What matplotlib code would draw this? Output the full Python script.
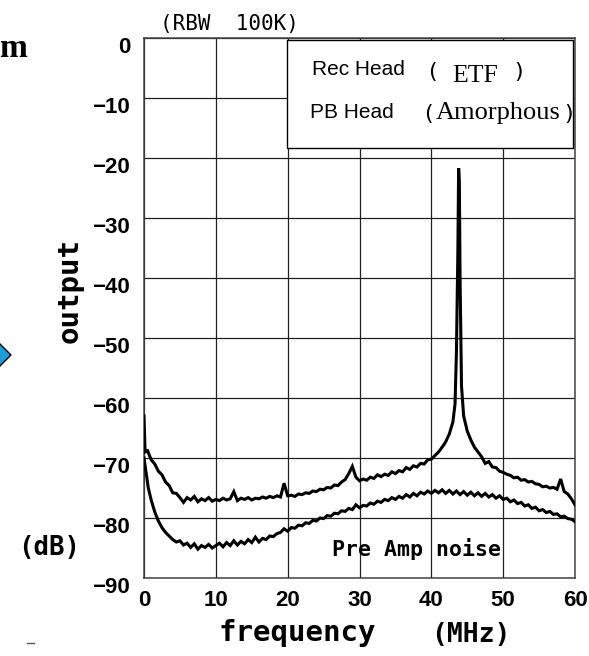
import matplotlib
matplotlib.use("Agg")
import matplotlib.pyplot as plt
from matplotlib.patches import Rectangle, Polygon
from matplotlib.lines import Line2D
import matplotlib.transforms as mtransforms

# ---------------- data ----------------
freq_ticks = [0, 10, 20, 30, 40, 50, 60]
freq_tick_labels = ["0", "10", "20", "30", "40", "50", "60"]
db_ticks = [0, -10, -20, -30, -40, -50, -60, -70, -80, -90]
db_tick_labels = ["0", "\u221210", "\u221220", "\u221230", "\u221240",
                  "\u221250", "\u221260", "\u221270", "\u221280", "\u221290"]

# Rec head (ETF) / PB head (Amorphous) output spectrum
rec_freq = [0.0, 0.15, 0.5, 1.0, 1.5, 2.0, 2.5, 3.0, 3.5, 4.0, 4.5, 5.0, 5.5, 6.0, 6.5,
            7.0, 7.5, 8.0, 8.5, 9.0, 9.5, 10.0, 10.5, 11.0, 11.5, 12.0, 12.5, 13.0,
            13.5, 14.0, 14.5, 15.0, 15.5, 16.0, 16.5, 17.0, 17.5, 18.0, 18.5, 19.0,
            19.5, 20.0, 20.5, 21.0, 21.5, 22.0, 22.5, 23.0, 23.5, 24.0, 24.5, 25.0,
            25.5, 26.0, 26.5, 27.0, 27.5, 28.0, 28.5, 29.0, 29.5, 30.0, 30.5, 31.0,
            31.5, 32.0, 32.5, 33.0, 33.5, 34.0, 34.5, 35.0, 35.5, 36.0, 36.5, 37.0,
            37.5, 38.0, 38.5, 39.0, 39.5, 40.0, 40.5, 41.0, 41.5, 42.0, 42.5, 43.0,
            43.3, 43.5, 43.7, 43.8, 43.9, 44.0, 44.2, 44.5, 45.0, 45.5, 46.0, 46.5,
            47.0, 47.5, 48.0, 48.5, 49.0, 49.5, 50.0, 50.5, 51.0, 51.5, 52.0, 52.5,
            53.0, 53.5, 54.0, 54.5, 55.0, 55.5, 56.0, 56.5, 57.0, 57.5, 58.0, 58.5,
            59.0, 59.5, 60.0]
rec_db = [-63.0, -69.0, -68.8, -70.3, -71.0, -72.2, -72.8, -74.0, -74.6, -75.8, -75.9,
          -76.6, -77.4, -76.6, -77.0, -76.4, -77.3, -76.8, -77.1, -76.6, -77.2, -76.9,
          -77.1, -76.7, -77.0, -76.8, -75.6, -77.1, -76.7, -76.9, -76.6, -77.0, -76.7,
          -76.8, -76.5, -76.7, -76.4, -76.6, -76.3, -76.5, -74.2, -76.3, -76.2, -76.4,
          -76.0, -76.1, -75.8, -75.9, -75.5, -75.6, -75.2, -75.3, -74.9, -75.0, -74.5,
          -74.6, -74.0, -73.6, -72.6, -71.4, -73.2, -73.8, -73.5, -73.7, -73.2, -73.4,
          -72.8, -73.1, -72.7, -72.9, -72.3, -72.6, -72.1, -72.3, -71.6, -71.9, -71.3,
          -71.5, -70.9, -71.0, -70.3, -70.2, -69.6, -69.0, -68.2, -67.3, -66.0, -64.0,
          -61.0, -52.0, -35.0, -21.7, -24.0, -40.0, -58.0, -63.0, -65.5, -67.0, -68.2,
          -69.0, -69.8, -70.9, -70.6, -71.5, -71.6, -72.2, -72.4, -72.7, -72.9, -73.3,
          -73.2, -73.7, -73.6, -74.0, -73.9, -74.3, -74.4, -74.8, -74.7, -75.0, -74.9,
          -75.2, -73.5, -75.6, -76.0, -76.8, -77.8]

# Pre Amp noise spectrum
noise_freq = [0.0, 0.3, 0.6, 1.0, 1.5, 2.0, 2.5, 3.0, 3.5, 4.0, 4.5, 5.0, 5.5, 6.0, 6.5,
              7.0, 7.5, 8.0, 8.5, 9.0, 9.5, 10.0, 10.5, 11.0, 11.5, 12.0, 12.5, 13.0,
              13.5, 14.0, 14.5, 15.0, 15.5, 16.0, 16.5, 17.0, 17.5, 18.0, 18.5, 19.0,
              19.5, 20.0, 20.5, 21.0, 21.5, 22.0, 22.5, 23.0, 23.5, 24.0, 24.5, 25.0,
              25.5, 26.0, 26.5, 27.0, 27.5, 28.0, 28.5, 29.0, 29.5, 30.0, 30.5, 31.0,
              31.5, 32.0, 32.5, 33.0, 33.5, 34.0, 34.5, 35.0, 35.5, 36.0, 36.5, 37.0,
              37.5, 38.0, 38.5, 39.0, 39.5, 40.0, 40.5, 41.0, 41.5, 42.0, 42.5, 43.0,
              43.5, 44.0, 44.5, 45.0, 45.5, 46.0, 46.5, 47.0, 47.5, 48.0, 48.5, 49.0,
              49.5, 50.0, 50.5, 51.0, 51.5, 52.0, 52.5, 53.0, 53.5, 54.0, 54.5, 55.0,
              55.5, 56.0, 56.5, 57.0, 57.5, 58.0, 58.5, 59.0, 59.5, 60.0]
noise_db = [-70.0, -72.5, -75.0, -77.0, -79.0, -80.5, -81.6, -82.4, -83.0, -83.6, -84.0,
            -83.8, -84.5, -84.2, -84.9, -84.3, -85.2, -84.6, -84.9, -84.4, -85.0, -84.6,
            -84.2, -84.8, -84.1, -84.6, -83.8, -84.5, -83.9, -84.3, -83.6, -84.1, -83.2,
            -84.0, -83.4, -83.6, -83.0, -83.1, -82.6, -82.4, -81.8, -82.2, -81.6, -81.7,
            -81.2, -81.3, -80.8, -80.9, -80.4, -80.5, -80.0, -80.1, -79.6, -79.7, -79.2,
            -79.3, -78.8, -78.9, -78.4, -78.6, -77.8, -78.3, -77.9, -78.0, -77.5, -77.7,
            -77.2, -77.4, -76.9, -77.1, -76.6, -76.9, -76.4, -76.7, -76.1, -76.5, -75.9,
            -76.3, -75.7, -76.0, -75.5, -75.9, -75.4, -75.8, -75.3, -75.9, -75.4, -76.0,
            -75.5, -76.1, -75.6, -76.2, -75.7, -76.3, -75.8, -76.4, -75.9, -76.5, -76.1,
            -76.7, -76.3, -76.9, -76.7, -77.3, -77.0, -77.6, -77.4, -78.0, -77.8, -78.4,
            -78.2, -78.8, -78.6, -79.1, -78.9, -79.4, -79.3, -79.8, -79.7, -80.1, -80.2,
            -80.6]

# ---------------- figure ----------------
W, H = 589, 656
fig = plt.figure(figsize=(W / 100, H / 100), dpi=100)
fig.patch.set_facecolor("white")

def fx(px):
    return px / W

def fy(py):
    return 1 - py / H

ax = fig.add_axes([fx(144), fy(578), (575 - 144) / W, (578 - 38) / H])
ax.set_xlim(0, 60)
ax.set_ylim(-90, 0)

ax.set_xticks(freq_ticks)
ax.set_xticklabels(freq_tick_labels)
ax.set_yticks(db_ticks)
ax.set_yticklabels(db_tick_labels)
ax.tick_params(axis="both", length=0, labelsize=16)
ax.tick_params(axis="y", pad=10)
ax.tick_params(axis="x", pad=9)
for lab in ax.get_yticklabels() + ax.get_xticklabels():
    lab.set_fontfamily("Liberation Sans")
    lab.set_fontweight("bold")
shift = mtransforms.ScaledTranslation(0, -7 / 100, fig.dpi_scale_trans)
for lab in ax.get_yticklabels():
    lab.set_transform(lab.get_transform() + shift)

ax.grid(True, color="#222222", linewidth=0.9)
ax.set_axisbelow(True)
for s in ax.spines.values():
    s.set_color("#444444")
    s.set_linewidth(1.1)

# curves
ax.plot(rec_freq, rec_db, color="black", linewidth=2.2, zorder=4,
        solid_joinstyle="miter")
ax.plot(noise_freq, noise_db, color="black", linewidth=2.2, zorder=4,
        solid_joinstyle="miter")

# legend box
ax.add_patch(Rectangle((19.9, -18.3), 39.8, 17.9, facecolor="white",
                       edgecolor="black", linewidth=1.0, zorder=3))
ax.text(23.4, -6.2, "Rec Head", fontsize=15, family="Liberation Sans",
        va="baseline", ha="left", zorder=5)
ax.text(40.1, -6.6, "(", fontsize=16, family="DejaVu Sans", va="baseline",
        ha="center", zorder=5)
ax.text(42.9, -7.3, "ETF", fontsize=18.5, family="Liberation Serif",
        va="baseline", ha="left", zorder=5)
ax.text(52.1, -6.6, ")", fontsize=16, family="DejaVu Sans", va="baseline",
        ha="center", zorder=5)
ax.text(23.1, -13.35, "PB Head", fontsize=15, family="Liberation Sans",
        va="baseline", ha="left", zorder=5)
ax.text(39.6, -13.6, "(", fontsize=16, family="DejaVu Sans", va="baseline",
        ha="center", zorder=5)
ax.text(40.6, -13.5, "Amorphous", fontsize=19, family="Liberation Serif",
        va="baseline", ha="left", zorder=5)
ax.text(59.1, -13.6, ")", fontsize=16, family="DejaVu Sans", va="baseline",
        ha="center", zorder=5)

# annotation inside plot
ax.text(26.2, -86.3, "Pre Amp noise", fontsize=15.5, family="DejaVu Sans Mono",
        fontweight="bold", va="baseline", ha="left", zorder=5)

# texts outside axes
fig.text(fx(160), fy(24), "(RBW  100K)", fontsize=15, family="DejaVu Sans Mono",
         va="center", ha="left")
fig.text(fx(70), fy(290), "output", fontsize=21, family="DejaVu Sans Mono",
         fontweight="bold", rotation=90, va="center", ha="center")
fig.text(fx(49), fy(548), "(dB)", fontsize=18.5, family="DejaVu Sans Mono",
         fontweight="bold", va="center", ha="center")
fig.text(fx(297), fy(641), "frequency", fontsize=21, family="DejaVu Sans Mono",
         fontweight="bold", va="baseline", ha="center")
fig.text(fx(471), fy(642), "(MHz)", fontsize=19, family="DejaVu Sans Mono",
         fontweight="bold", va="baseline", ha="center")
fig.text(fx(-1), fy(57), "m", fontsize=24, family="Liberation Serif",
         fontweight="bold", va="baseline", ha="left")

# cropped blue diamond at left edge
diamond = Polygon([(fx(11), fy(355)), (fx(-7), fy(337)), (fx(-25), fy(355)),
                   (fx(-7), fy(373))], closed=True, transform=fig.transFigure,
                  facecolor="#1A9FD6", edgecolor="black", linewidth=1.0)
fig.patches.append(diamond)
fig.lines.append(Line2D([fx(27), fx(34)], [fy(643), fy(643)],
                        transform=fig.transFigure, color="#555555", linewidth=1.0))

fig.savefig("out.png", dpi=100, facecolor="white")
